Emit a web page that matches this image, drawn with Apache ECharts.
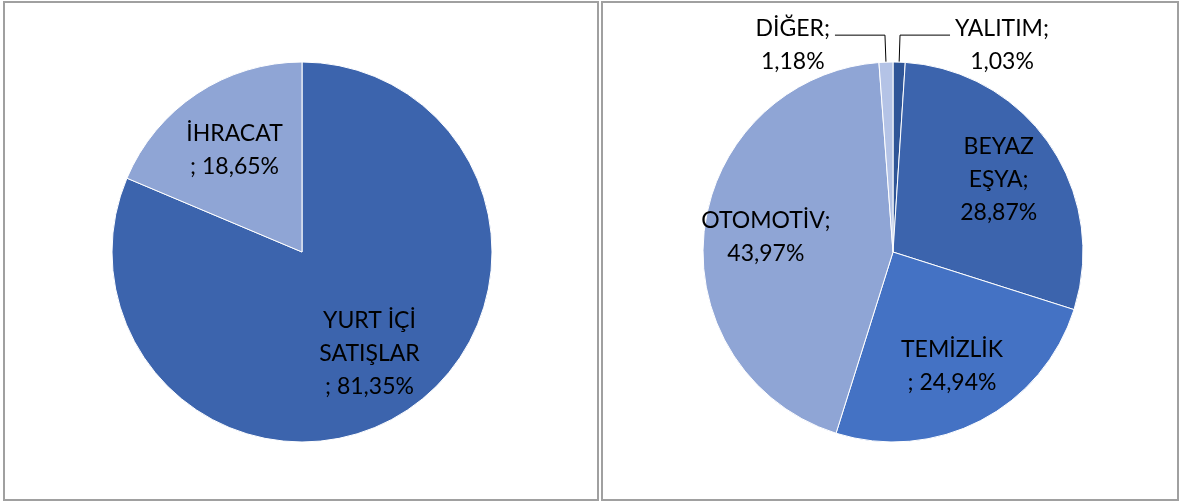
<!DOCTYPE html>
<html>
<head>
<meta charset="utf-8">
<script src="https://cdn.jsdelivr.net/npm/echarts@6/dist/echarts.min.js"></script>
<style>
  html, body { margin: 0; padding: 0; background: #fff; }
  #chart { width: 1181px; height: 503px; }
</style>
</head>
<body>
<div id="chart"></div>
<script>
// sol pasta: satış dağılımı
const salesNames = ["YURT İÇİ SATIŞLAR", "İHRACAT"];
const salesValues = [81.35, 18.65];
const salesLabelHeads = ["YURT İÇİ\nSATIŞLAR\n; ", "İHRACAT\n; "];
const salesColors = ["#3c64ad", "#8fa5d5"];

// sağ pasta: sektör dağılımı
const sectorNames = ["YALITIM", "BEYAZ EŞYA", "TEMİZLİK", "OTOMOTİV", "DİĞER"];
const sectorValues = [1.03, 28.87, 24.94, 43.97, 1.18];
const sectorLabelHeads = ["YALITIM;\n", "BEYAZ\nEŞYA;\n", "TEMİZLİK\n; ", "OTOMOTİV;\n", "DİĞER;\n"];
const sectorColors = ["#2f5597", "#3c64ad", "#4472c4", "#8fa5d5", "#b4c3e6"];
// dışarıda etiketlenen küçük dilimler
const outsideNames = ["YALITIM", "DİĞER"];

const fmt = (v) => v.toFixed(2).replace(".", ",") + "%";
const FONT = "Lato, 'Open Sans', sans-serif";

function mainData(names, values, heads, colors) {
  return names.map((n, i) => {
    const outside = outsideNames.includes(n);
    // boş ilk satır, metni çizginin biraz altına iter
    const txt = "{sp|}\n" + (heads[i] + fmt(values[i])).split("\n").map((s) => "{t|" + s + "}").join("\n");
    return {
      name: n,
      value: values[i],
      itemStyle: { color: colors[i] },
      label: outside
        ? { show: true, position: "outside", formatter: txt }
        : { show: false },
      labelLine: { show: outside },
    };
  });
}

// yardımcı seri: iç etiketleri dilim merkezine daha uzak yerleştirmek için
function helperData(names, values, heads) {
  return names.map((n, i) => ({
    name: n,
    value: values[i],
    label: outsideNames.includes(n)
      ? { show: false }
      : { show: true, formatter: heads[i] + fmt(values[i]) },
  }));
}

const chart = echarts.init(document.getElementById("chart"));

const labelText = {
  color: "#000",
  fontFamily: FONT,
  fontSize: 23,
  lineHeight: 33,
};

chart.setOption({
  animation: false,
  graphic: [
    {
      type: "rect",
      shape: { x: 4, y: 2, width: 594, height: 498 },
      style: { fill: "none", stroke: "#a0a0a0", lineWidth: 2 },
    },
    {
      type: "rect",
      shape: { x: 602, y: 2, width: 576, height: 498 },
      style: { fill: "none", stroke: "#a0a0a0", lineWidth: 2 },
    },
  ],
  series: [
    {
      type: "pie",
      center: [302, 252],
      radius: [0, 190],
      startAngle: 90,
      avoidLabelOverlap: false,
      silent: true,
      itemStyle: { borderColor: "#fff", borderWidth: 1 },
      label: { show: false },
      labelLine: { show: false },
      data: mainData(salesNames, salesValues, salesLabelHeads, salesColors),
    },
    {
      type: "pie",
      center: [302, 252],
      radius: [0, 238],
      startAngle: 90,
      silent: true,
      avoidLabelOverlap: false,
      itemStyle: { color: "rgba(0,0,0,0)" },
      label: Object.assign({ position: "inside" }, labelText),
      labelLine: { show: false },
      data: helperData(salesNames, salesValues, salesLabelHeads),
    },
    {
      type: "pie",
      center: [893, 252],
      radius: [0, 190],
      startAngle: 90,
      avoidLabelOverlap: false,
      silent: true,
      itemStyle: { borderColor: "#fff", borderWidth: 1 },
      label: Object.assign({}, labelText, {
        rich: {
          sp: { lineHeight: 20, fontSize: 10 },
          t: { fontFamily: FONT, fontSize: 23, lineHeight: 33, color: "#000", align: "center" },
        },
      }),
      labelLine: {
        length: 27,
        length2: 50,
        lineStyle: { color: "#000", width: 1 },
      },
      data: mainData(sectorNames, sectorValues, sectorLabelHeads, sectorColors),
    },
    {
      type: "pie",
      center: [893, 252],
      radius: [0, 250],
      startAngle: 90,
      silent: true,
      avoidLabelOverlap: false,
      itemStyle: { color: "rgba(0,0,0,0)" },
      label: Object.assign({ position: "inside" }, labelText),
      labelLine: { show: false },
      data: helperData(sectorNames, sectorValues, sectorLabelHeads),
    },
  ],
});
</script>
</body>
</html>
